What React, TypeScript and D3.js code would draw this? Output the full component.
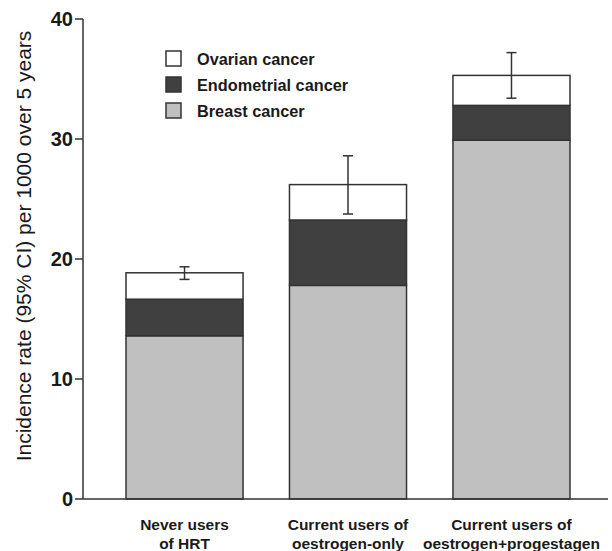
import React from "react";
import * as d3 from "d3";

const categories = ["Never users|of HRT", "Current users of|oestrogen-only", "Current users of|oestrogen+progestagen"];
const seriesNames = ["Breast cancer", "Endometrial cancer", "Ovarian cancer"];
const breast = [13.6, 17.8, 29.9];
const endometrial = [3.05, 5.45, 2.9];
const ovarian = [2.2, 2.95, 2.5];
const ciLow = [18.3, 23.75, 33.4];
const ciHigh = [19.35, 28.6, 37.2];
const yTicks = [0, 10, 20, 30, 40];
const legendOrder = ["Ovarian cancer", "Endometrial cancer", "Breast cancer"];

const colors: Record<string, string> = {
  "Breast cancer": "#c0c0c0",
  "Endometrial cancer": "#404040",
  "Ovarian cancer": "#ffffff",
};

const W = 612;
const H = 551;
const FONT = "'Liberation Sans', Arial, Helvetica, sans-serif";
const INK = "#1a1a1a";

export default function App() {
  const rows = categories.map((c, i) => ({
    cat: c,
    "Breast cancer": breast[i],
    "Endometrial cancer": endometrial[i],
    "Ovarian cancer": ovarian[i],
  }));
  const stacked = d3.stack<any>().keys(seriesNames)(rows);

  const x = d3.scaleBand<string>().domain(categories).range([126, 570]).paddingInner(0.284).paddingOuter(0);
  const y = d3.scaleLinear().domain([0, 40]).range([499, 19]);
  const axisX = 83;

  return (
    <svg width={W} height={H} style={{ position: "absolute", left: 0, top: 0, background: "#fff" }} fontFamily={FONT}>
      <rect x={0} y={0} width={W} height={H} fill="#fff" />
      {stacked.map((s) => (
        <g key={s.key}>
          {s.map((d, i) => (
            <rect
              key={i}
              x={x(categories[i])!}
              y={y(d[1])}
              width={x.bandwidth()}
              height={y(d[0]) - y(d[1])}
              fill={colors[s.key]}
              stroke="#333"
              strokeWidth={1.5}
            />
          ))}
        </g>
      ))}
      {categories.map((c, i) => {
        const cx = x(c)! + x.bandwidth() / 2;
        return (
          <g key={c} stroke="#333" strokeWidth={1.5}>
            <line x1={cx} x2={cx} y1={y(ciLow[i])} y2={y(ciHigh[i])} />
            <line x1={cx - 5} x2={cx + 5} y1={y(ciLow[i])} y2={y(ciLow[i])} />
            <line x1={cx - 5} x2={cx + 5} y1={y(ciHigh[i])} y2={y(ciHigh[i])} />
          </g>
        );
      })}
      <line x1={axisX} x2={axisX} y1={y(40)} y2={y(0)} stroke="#333" strokeWidth={1.5} />
      <line x1={axisX} x2={608} y1={y(0)} y2={y(0)} stroke="#333" strokeWidth={1.5} />
      {yTicks.map((t) => (
        <g key={t}>
          <line x1={axisX - 8} x2={axisX} y1={y(t)} y2={y(t)} stroke="#333" strokeWidth={1.5} />
          <text x={axisX - 10} y={y(t)} dy="0.36em" textAnchor="end" fontSize={20} fontWeight="bold" fill={INK}>
            {t}
          </text>
        </g>
      ))}
      <text
        transform={`translate(31, ${y(20) - 13}) rotate(-90)`}
        textAnchor="middle"
        fontSize={21}
        fill={INK}
      >
        Incidence rate (95% CI) per 1000 over 5 years
      </text>
      {categories.map((c) => {
        const cx = x(c)! + x.bandwidth() / 2;
        const lines = c.split("|");
        return (
          <text key={c} textAnchor="middle" fontSize={15.5} fontWeight="bold" fill={INK}>
            <tspan x={cx} y={530}>{lines[0]}</tspan>
            <tspan x={cx} y={549}>{lines[1]}</tspan>
          </text>
        );
      })}
      {legendOrder.map((k, i) => (
        <g key={k} transform={`translate(166, ${51 + i * 26})`}>
          <rect x={0} y={0} width={15} height={15} fill={colors[k]} stroke="#333" strokeWidth={1.5} />
          <text x={31} y={14} fontSize={16.3} fontWeight="bold" fill={INK}>
            {k}
          </text>
        </g>
      ))}
    </svg>
  );
}
